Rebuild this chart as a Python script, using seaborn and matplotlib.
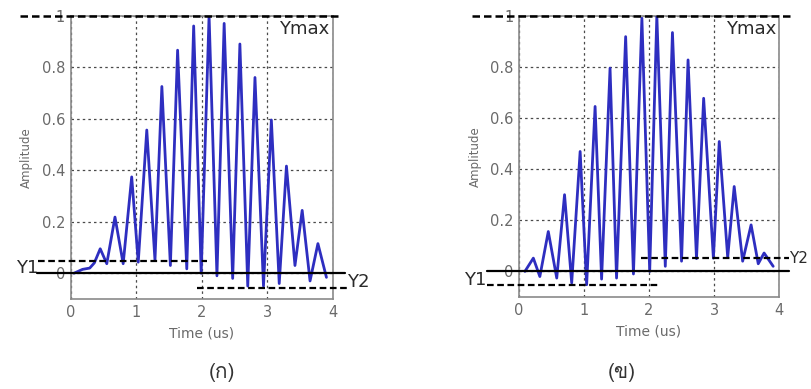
import matplotlib
matplotlib.use("Agg")
import matplotlib.pyplot as plt
from matplotlib import font_manager
import seaborn as sns
import pandas as pd

# ---------------- data ----------------
left_t = [0.05, 0.18, 0.29, 0.36, 0.45, 0.55, 0.675, 0.80, 0.93, 1.03, 1.16, 1.285,
          1.39, 1.52, 1.63, 1.77, 1.875, 1.99, 2.11, 2.23, 2.34, 2.47, 2.58, 2.70,
          2.81, 2.94, 3.06, 3.18, 3.29, 3.42, 3.53, 3.65, 3.77, 3.90]
left_amp = [0.0, 0.015, 0.02, 0.04, 0.095, 0.037, 0.218, 0.037, 0.374, 0.043, 0.556, 0.05,
            0.725, 0.03, 0.866, 0.017, 0.96, 0.0, 1.0, -0.01, 0.97, -0.02, 0.89, -0.05,
            0.76, -0.05, 0.595, -0.04, 0.416, 0.03, 0.244, -0.03, 0.115, -0.016]

right_t = [0.09, 0.22, 0.32, 0.45, 0.58, 0.70, 0.81, 0.94, 1.04, 1.17, 1.27, 1.40,
           1.50, 1.64, 1.76, 1.89, 2.01, 2.12, 2.25, 2.36, 2.50, 2.60, 2.73, 2.84,
           2.99, 3.08, 3.21, 3.31, 3.44, 3.57, 3.68, 3.77, 3.91]
right_amp = [0.0, 0.052, -0.02, 0.156, -0.026, 0.30, -0.045, 0.469, -0.052, 0.645, -0.03, 0.795,
             -0.026, 0.918, -0.01, 0.99, 0.0, 1.0, 0.02, 0.934, 0.04, 0.827, 0.05, 0.677,
             0.052, 0.508, 0.055, 0.332, 0.04, 0.182, 0.03, 0.072, 0.02]

# reference levels
left_levels = {"Ymax": 1.0, "Y1": 0.048, "base": 0.0, "Y2": -0.057}
right_levels = {"Ymax": 1.0, "Y1": -0.052, "base": 0.0, "Y2": 0.052}

xticks = [0, 1, 2, 3, 4]
xticklabels = ["0", "1", "2", "3", "4"]
yticks = [0, 0.2, 0.4, 0.6, 0.8, 1.0]
yticklabels = ["0", "0.2", "0.4", "0.6", "0.8", "1"]
captions = ["(ก)", "(ข)"]

# ---------------- fonts ----------------
sns.set_style("white")


def find_thai_font():
    try:
        from fontTools.ttLib import TTFont
    except Exception:
        return None
    for f in font_manager.fontManager.ttflist:
        try:
            tt = TTFont(f.fname, fontNumber=0, lazy=True)
            cmap = tt.getBestCmap()
            if cmap and 0x0E01 in cmap and 0x0E02 in cmap:
                return f.name
        except Exception:
            continue
    return None


thai = find_thai_font()
plt.rcParams["font.family"] = ["DejaVu Sans"]
cap_family = [thai, "DejaVu Sans"] if thai else ["DejaVu Sans"]

# ---------------- figure ----------------
fig = plt.figure(figsize=(8.11, 3.89), dpi=100)
ax_l = fig.add_axes([0.0872, 0.2314, 0.3234, 0.7283])
ax_r = fig.add_axes([0.6400, 0.2365, 0.3206, 0.7232])

wave_color = "#2e2ec0"
tick_color = "#6a6a6a"
label_color = "#2a2a2a"


def style_axes(ax):
    ax.set_xlim(0, 4)
    ax.set_ylim(-0.1, 1.0)
    ax.set_xticks(xticks)
    ax.set_xticklabels(xticklabels)
    ax.set_yticks(yticks)
    ax.set_yticklabels(yticklabels)
    ax.grid(True, color="#4a4a4a", linestyle=(0, (2.0, 2.5)), linewidth=0.9)
    ax.tick_params(axis="both", labelsize=10.5, colors=tick_color, length=3,
                   direction="in", pad=4)
    for s in ax.spines.values():
        s.set_color("#8a8a8a")
        s.set_linewidth(1.2)
    ax.set_xlabel("Time (us)", fontsize=10, color=tick_color, labelpad=5)
    ax.set_ylabel("Amplitude", fontsize=8.5, color=tick_color, labelpad=6)


for ax, t, a in [(ax_l, left_t, left_amp), (ax_r, right_t, right_amp)]:
    df = pd.DataFrame({"t": t, "amp": a})
    sns.lineplot(data=df, x="t", y="amp", ax=ax, sort=False, estimator=None,
                 color=wave_color, linewidth=2.0, zorder=3)
    style_axes(ax)

dash = (0, (3.0, 1.6))
# left reference lines
L = left_levels
ax_l.plot([-0.77, 4.14], [L["Ymax"]] * 2, color="black", lw=1.8, ls=dash, clip_on=False, zorder=5)
ax_l.plot([-0.50, 2.08], [L["Y1"]] * 2, color="black", lw=1.6, ls=dash, clip_on=False, zorder=5)
ax_l.plot([-0.51, 4.18], [L["base"]] * 2, color="black", lw=1.6, ls="-", clip_on=False, zorder=5)
ax_l.plot([1.93, 4.21], [L["Y2"]] * 2, color="black", lw=1.6, ls=dash, clip_on=False, zorder=5)
ax_l.text(3.95, 0.985, "Ymax", ha="right", va="top", fontsize=13, color=label_color)
ax_l.text(-0.50, 0.02, "Y1", ha="right", va="center", fontsize=13, color=label_color)
ax_l.text(4.22, -0.035, "Y2", ha="left", va="center", fontsize=13, color=label_color)

R = right_levels
ax_r.plot([-0.73, 4.17], [R["Ymax"]] * 2, color="black", lw=1.8, ls=dash, clip_on=False, zorder=5)
ax_r.plot([-0.50, 4.15], [R["base"]] * 2, color="black", lw=1.6, ls="-", clip_on=False, zorder=5)
ax_r.plot([-0.50, 2.14], [R["Y1"]] * 2, color="black", lw=1.6, ls=dash, clip_on=False, zorder=5)
ax_r.plot([1.87, 4.15], [R["Y2"]] * 2, color="black", lw=1.6, ls=dash, clip_on=False, zorder=5)
ax_r.text(3.95, 0.985, "Ymax", ha="right", va="top", fontsize=13, color=label_color)
ax_r.text(-0.50, -0.035, "Y1", ha="right", va="center", fontsize=13, color=label_color)
ax_r.text(4.16, 0.05, "Y2", ha="left", va="center", fontsize=11, color=label_color)

fig.text(222 / 811, 1 - 373 / 389, captions[0], ha="center", va="center",
         fontsize=15, color="#333333", family=cap_family)
fig.text(622 / 811, 1 - 373 / 389, captions[1], ha="center", va="center",
         fontsize=15, color="#333333", family=cap_family)

fig.savefig("out.png", dpi=100)
